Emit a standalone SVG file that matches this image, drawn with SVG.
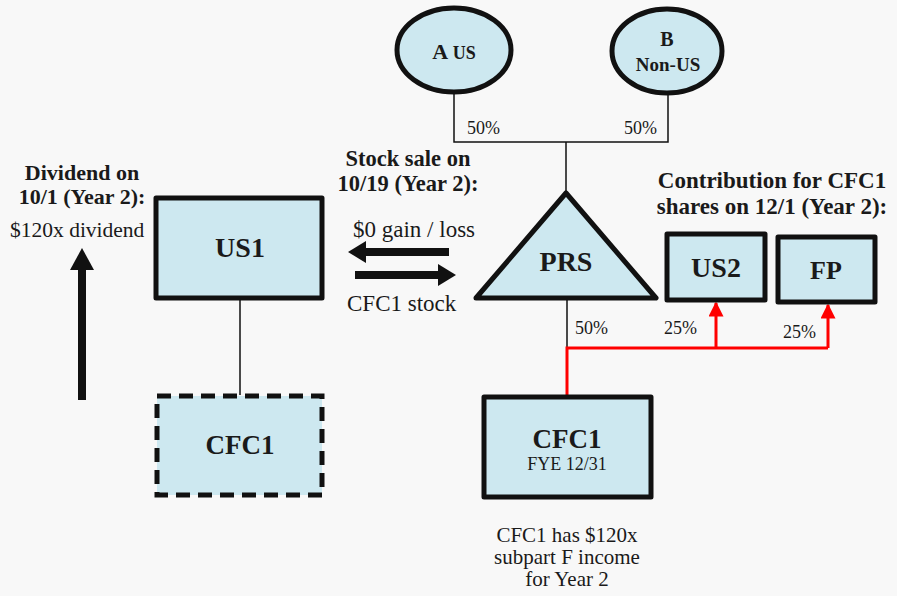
<svg xmlns="http://www.w3.org/2000/svg" width="897" height="596" viewBox="0 0 897 596">
<defs>
<style>
.bg{fill:#f8f8f8}
.node{fill:#cde8f0;stroke:#111;stroke-width:5;stroke-linejoin:round}
.t{font-family:"Liberation Serif","Times New Roman",serif;fill:#1a1a1a}
.b{font-weight:bold}
.c{text-anchor:middle}
.thin{stroke:#111;stroke-width:1.5;fill:none}
.red{stroke:#ff0000;stroke-width:3;fill:none}
.big{stroke:#111;stroke-width:8;fill:none}
</style>
<marker id="ra" viewBox="0 0 10 10" refX="9" refY="5" markerWidth="5" markerHeight="5" markerUnits="strokeWidth" orient="auto">
<path d="M0,0 L10,5 L0,10 Z" fill="#ff0000"/>
</marker>
</defs>
<rect class="bg" x="0" y="0" width="897" height="596"/>

<g id="connectors">
<polyline class="thin" points="454,93 454,142 668,142 668,93"/>
<line class="thin" x1="566" y1="142" x2="566" y2="193"/>
<line class="thin" x1="567" y1="298" x2="567" y2="348"/>
<line class="thin" x1="240" y1="298" x2="240" y2="395"/>
<polyline class="red" points="567,396 567,348 828,348"/>
<line class="red" x1="716" y1="348" x2="716" y2="303" marker-end="url(#ra)"/>
<line class="red" x1="828" y1="348" x2="828" y2="305" marker-end="url(#ra)"/>
<text class="t" x="467" y="134" font-size="18">50%</text>
<text class="t" x="624" y="134" font-size="18">50%</text>
<text class="t" x="575" y="334" font-size="18">50%</text>
<text class="t" x="664" y="334" font-size="18">25%</text>
<text class="t" x="783" y="338" font-size="18">25%</text>
</g>

<g id="A">
<ellipse class="node" cx="454" cy="50" rx="57" ry="42"/>
<text class="t b c" x="454" y="59"><tspan font-size="22">A</tspan><tspan font-size="18"> US</tspan></text>
</g>
<g id="B">
<ellipse class="node" cx="667" cy="51" rx="55" ry="42"/>
<text class="t b c" x="667" y="46" font-size="20">B</text>
<text class="t b c" x="668" y="71" font-size="19">Non-US</text>
</g>
<g id="PRS">
<polygon class="node" points="566,193 656,298 476,298"/>
<text class="t b c" x="566" y="271" font-size="28">PRS</text>
</g>
<g id="US1">
<rect class="node" x="156" y="198" width="166" height="100"/>
<text class="t b c" x="240" y="257" font-size="28">US1</text>
</g>
<g id="CFC1_old">
<rect x="157" y="396" width="165" height="99" fill="#cde8f0" stroke="#111" stroke-width="5" stroke-dasharray="14,8"/>
<text class="t b c" x="240" y="454" font-size="27">CFC1</text>
</g>
<g id="CFC1">
<rect class="node" x="484" y="397" width="167" height="100"/>
<text class="t b c" x="567" y="448" font-size="27">CFC1</text>
<text class="t c" x="567" y="470" font-size="18">FYE 12/31</text>
</g>
<g id="US2">
<rect class="node" x="667" y="234" width="98" height="66"/>
<text class="t b c" x="716" y="277" font-size="28">US2</text>
</g>
<g id="FP">
<rect class="node" x="778" y="237" width="97" height="65"/>
<text class="t b c" x="826" y="279" font-size="26">FP</text>
</g>

<g id="annotations">
<text class="t b c" font-size="22"><tspan x="82" y="180">Dividend on</tspan><tspan x="82" y="204">10/1 (Year 2):</tspan></text>
<text class="t" x="10" y="237" font-size="21.5">$120x dividend</text>
<line class="big" x1="82" y1="400" x2="82" y2="268"/>
<polygon points="70,270 94,270 82,248" fill="#111"/>

<text class="t b c" font-size="22.5"><tspan x="408" y="166">Stock sale on</tspan><tspan x="408" y="191">10/19 (Year 2):</tspan></text>
<text class="t" x="353" y="237" font-size="23">$0 gain / loss</text>
<line class="big" x1="449" y1="252" x2="364" y2="252"/>
<polygon points="366,241 366,263 348,252" fill="#111"/>
<line class="big" x1="355" y1="275" x2="440" y2="275"/>
<polygon points="438,264 438,286 456,275" fill="#111"/>
<text class="t" x="347" y="311" font-size="23">CFC1 stock</text>

<text class="t b c" font-size="23"><tspan x="772" y="188">Contribution for CFC1</tspan><tspan x="772" y="214">shares on 12/1 (Year 2):</tspan></text>

<text class="t c" font-size="21"><tspan x="567" y="542">CFC1 has $120x</tspan><tspan x="567" y="564">subpart F income</tspan><tspan x="567" y="586">for Year 2</tspan></text>
</g>
</svg>
